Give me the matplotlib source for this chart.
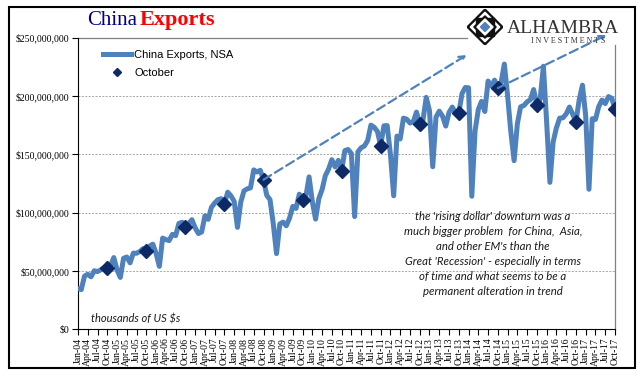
import matplotlib
matplotlib.use('Agg')
import matplotlib.pyplot as plt
from matplotlib.patches import Polygon, Rectangle
from matplotlib.ticker import FuncFormatter
import pandas as pd

# China exports, NSA, millions of "thousands of US $"
exports_2004 = [35.0, 34.0, 45.6, 47.2, 45.0, 50.2, 49.5, 51.0, 52.7, 52.3, 54.7, 61.5]
exports_2005 = [50.8, 44.5, 60.9, 62.0, 57.0, 65.3, 65.2, 66.7, 69.2, 67.4, 71.4, 73.0]
exports_2006 = [65.0, 54.0, 78.2, 76.9, 76.1, 81.4, 80.3, 90.8, 91.8, 88.0, 90.7, 94.0]
exports_2007 = [87.0, 82.1, 83.5, 97.3, 94.3, 104.6, 108.3, 111.2, 112.0, 107.7, 117.6, 114.4]
exports_2008 = [109.6, 87.4, 108.9, 118.7, 120.5, 121.3, 136.7, 134.9, 136.4, 128.3, 114.9, 111.2]
exports_2009 = [90.5, 64.9, 90.3, 91.9, 88.8, 95.4, 105.4, 103.7, 115.9, 110.8, 113.7, 130.7]
exports_2010 = [109.5, 94.5, 112.1, 119.9, 131.8, 137.4, 145.5, 139.3, 144.9, 136.0, 153.3, 154.2]
exports_2011 = [150.7, 96.7, 152.2, 155.7, 157.2, 161.9, 175.1, 173.3, 169.7, 157.5, 174.5, 174.7]
exports_2012 = [149.9, 114.5, 165.7, 163.3, 181.1, 180.2, 176.9, 177.9, 186.3, 175.7, 179.4, 198.9]
exports_2013 = [187.4, 139.4, 182.0, 187.1, 182.8, 174.3, 186.0, 190.6, 185.6, 185.4, 202.2, 207.4]
exports_2014 = [207.1, 114.1, 170.1, 188.5, 195.5, 186.8, 212.9, 208.6, 213.7, 206.9, 211.6, 227.5]
exports_2015 = [200.3, 169.2, 144.6, 176.3, 190.8, 191.9, 195.1, 196.9, 205.6, 192.4, 197.2, 225.6]
exports_2016 = [177.5, 126.0, 160.8, 172.8, 181.1, 181.4, 184.7, 190.6, 184.5, 178.2, 196.8, 209.4]
exports_2017 = [182.8, 120.1, 180.6, 180.0, 191.0, 196.6, 193.6, 199.6, 198.1, 188.9]

exports = (exports_2004 + exports_2005 + exports_2006 + exports_2007 + exports_2008
           + exports_2009 + exports_2010 + exports_2011 + exports_2012 + exports_2013
           + exports_2014 + exports_2015 + exports_2016 + exports_2017)
exports = [v * 1e6 for v in exports]

months = pd.date_range('2004-01-01', '2017-10-01', freq='MS')
month_labels = [d.strftime('%b-%y') for d in months]
oct_idx = [i for i, d in enumerate(months) if d.month == 10]

note = ("the 'rising dollar' downturn was a\n"
        "much bigger problem  for China,  Asia,\n"
        "and other EM's than the\n"
        "Great 'Recession' - especially in terms\n"
        "of time and what seems to be a\n"
        "permanent alteration in trend")

W, H = 641, 381
BLUE = '#4F81BD'
NAVY = '#0D2A66'

fig = plt.figure(figsize=(W / 100, H / 100), dpi=100)
ax = fig.add_axes([78 / W, (H - 329.3) / H, 537 / W, 291.5 / H])

x = list(range(len(exports)))
ax.plot(x, exports, color=BLUE, lw=3.6, solid_joinstyle='round', label='China Exports, NSA', zorder=3)
ax.plot(oct_idx, [exports[i] for i in oct_idx], linestyle='none', marker='D', ms=7.5,
        color=NAVY, mec=NAVY, label='October', zorder=4)

# dashed trend arrows
ax.annotate('', xy=(119.4, 235.2e6), xytext=(57, exports[57]),
            arrowprops=dict(arrowstyle='->', color=BLUE, lw=1.6, linestyle=(0, (4, 2)),
                            shrinkA=0, shrinkB=0), annotation_clip=False, zorder=5)
ax.annotate('', xy=(162.4, 252.4e6), xytext=(129, exports[129]),
            arrowprops=dict(arrowstyle='->', color=BLUE, lw=1.6, linestyle=(0, (4, 2)),
                            shrinkA=0, shrinkB=0), annotation_clip=False, zorder=5)

ax.set_xlim(0, len(exports) - 1)
ax.set_ylim(0, 250e6)
ax.set_yticks([0, 50e6, 100e6, 150e6, 200e6, 250e6])
ax.yaxis.set_major_formatter(FuncFormatter(lambda v, p: '${:,.0f}'.format(v)))
ax.set_xticks(x[::3])
ax.set_xticklabels(month_labels[::3], rotation=90)
for lab in ax.get_xticklabels() + ax.get_yticklabels():
    lab.set_family('Liberation Serif')
    lab.set_fontsize(7)
ax.tick_params(axis='both', direction='out', length=4, width=0.8, pad=2, colors='black')

for y in [50e6, 100e6, 150e6, 200e6]:
    ax.axhline(y, color='#A6A6A6', lw=0.7, linestyle=(0, (2, 1.5)), zorder=1)

ax.spines['top'].set_visible(False)
ax.spines['right'].set_visible(False)
ax.spines['left'].set_color('black')
ax.spines['bottom'].set_color('black')
# plot frame, partly hidden behind the logo
ax.plot([0, (467 - 78) / 537], [1, 1], transform=ax.transAxes, color='#808080', lw=0.9, clip_on=False)
ax.plot([1, 1], [0, (329.3 - 45) / 291.5], transform=ax.transAxes, color='#808080', lw=0.9, clip_on=False)

leg = ax.legend(loc='upper left', bbox_to_anchor=(103 / W, (H - 50) / H), bbox_transform=fig.transFigure,
                frameon=False, handlelength=2.5, handletextpad=0.3, labelspacing=0.75, markerscale=0.6,
                borderpad=0, borderaxespad=0, prop={'family': 'Liberation Sans', 'size': 8})

ax.text(4, 6e6, 'thousands of US $s', style='italic', family='Lato', fontsize=8, color='#1a1a1a')
ax.text(493 / W, (H - 211) / H, note, transform=fig.transFigure, ha='center', va='top',
        style='italic', family='Lato', fontsize=8.2, linespacing=1.45, color='#1a1a1a')

# title
fig.text(87 / W, (H - 25) / H, 'China', family='Liberation Serif', fontsize=15,
         color='#000080', va='baseline')
fig.text(140 / W, (H - 25) / H, 'Exports', family='Liberation Serif', fontsize=16,
         fontweight='bold', color='#FF0000', va='baseline')

# logo
lax = fig.add_axes([467 / W, (H - 45) / H, 36 / W, 36 / H])
lax.set_xlim(-1, 1)
lax.set_ylim(-1, 1)
lax.axis('off')
def diamond(r):
    return [(0, r), (r, 0), (0, -r), (-r, 0)]
lax.add_patch(Polygon(diamond(1.0), closed=True, color='#111111'))
lax.add_patch(Polygon(diamond(0.82), closed=True, color='white'))
lax.add_patch(Rectangle((-0.52, -0.52), 1.04, 1.04, color='#111111'))
lax.add_patch(Polygon(diamond(0.62), closed=True, color='#111111'))
lax.add_patch(Polygon(diamond(0.45), closed=True, color='white'))
lax.add_patch(Polygon(diamond(0.25), closed=True, color=BLUE))
fig.text(507 / W, (H - 33) / H, 'ALHAMBRA', family='Liberation Serif', fontsize=14,
         color='#333333', va='baseline')
fig.text(531 / W, (H - 43) / H, 'I N V E S T M E N T S', family='Liberation Serif', fontsize=5.8,
         color='#333333', va='baseline')

# outer border
fig.add_artist(Rectangle((9 / W, (H - 368) / H), 626 / W, 361 / H, transform=fig.transFigure,
                         fill=False, edgecolor='black', lw=1.5))

fig.savefig('out.png', dpi=100)
